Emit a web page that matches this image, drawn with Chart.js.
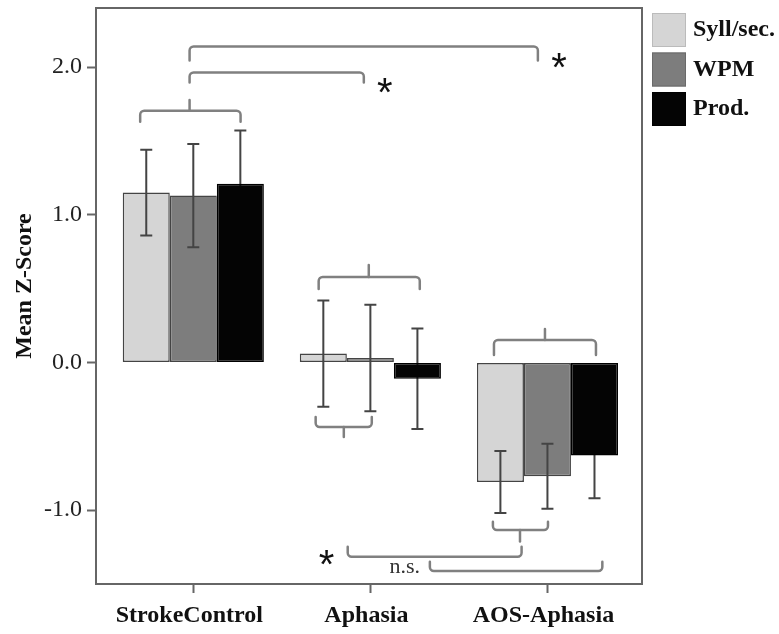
<!DOCTYPE html>
<html>
<head>
<meta charset="utf-8">
<script src="https://cdn.jsdelivr.net/npm/chart.js@4.4.1/dist/chart.umd.min.js"></script>
<style>
  html, body { margin: 0; padding: 0; background: #ffffff; }
  #wrap { width: 779px; height: 634px; }
</style>
</head>
<body>
<div id="wrap"><canvas id="c" width="779" height="634"></canvas></div>
<script>
// Group means (z-scores) and standard errors per speech-rate measure
const groups = ['StrokeControl', 'Aphasia', 'AOS-Aphasia'];
const seriesNames = ['Syll/sec.', 'WPM', 'Prod.'];
const syllPerSec = [1.15, 0.06, -0.81];
const syllErr = [0.29, 0.36, 0.21];
const wordsPerMin = [1.13, 0.03, -0.77];
const wpmErr = [0.35, 0.36, 0.22];
const productivity = [1.21, -0.11, -0.63];
const prodErr = [0.36, 0.34, 0.29];
const yTickValues = [-1, 0, 1, 2];

// Significance brackets, in axis units (x: group index, y: z-score)
const brackets = [
  { x1: -0.30, x2: 0.267, y: 1.705, leg: 1.630, nubX: -0.021, nubY: 1.777 },
  { x1: -0.021, x2: 1.946, y: 2.139, leg: 2.044 },
  { x1: -0.021, x2: 0.963, y: 1.963, leg: 1.896 },
  { x1: 0.708, x2: 1.279, y: 0.579, leg: 0.497, nubX: 0.991, nubY: 0.660 },
  { x1: 0.691, x2: 1.008, y: -0.437, leg: -0.369, nubX: 0.850, nubY: -0.504 },
  { x1: 1.698, x2: 2.274, y: 0.152, leg: 0.051, nubX: 1.986, nubY: 0.227 },
  { x1: 1.692, x2: 2.003, y: -1.134, leg: -1.078, nubX: 1.845, nubY: -1.213 },
  { x1: 0.872, x2: 1.854, y: -1.315, leg: -1.247 },
  { x1: 1.336, x2: 2.310, y: -1.412, leg: -1.349 }
];
const marks = [
  { text: '*', x: 2.065, y: 2.062, kind: 'star' },
  { text: '*', x: 1.081, y: 1.893, kind: 'star' },
  { text: '*', x: 0.753, y: -1.303, kind: 'star' },
  { text: 'n.s.', x: 1.194, y: -1.385, kind: 'note' }
];

const serif = '"Liberation Serif", "Times New Roman", serif';
const fills = ['#d5d5d5', '#7d7d7d', '#040404'];
const errors = [syllErr, wpmErr, prodErr];

const toPoints = vals => vals.map((v, i) => ({ x: i, y: v }));

function drawErrorBars(chart, which) {
  const ctx = chart.ctx, ys = chart.scales.y;
  ctx.save();
  ctx.strokeStyle = '#444';
  ctx.lineWidth = 2;
  chart.data.datasets.forEach((ds, di) => {
    if (!which(di)) return;
    const meta = chart.getDatasetMeta(di);
    meta.data.forEach((bar, i) => {
      const v = ds.data[i].y, e = errors[di][i];
      const top = ys.getPixelForValue(v + e), bot = ys.getPixelForValue(v - e);
      ctx.beginPath();
      ctx.moveTo(bar.x, top); ctx.lineTo(bar.x, bot);
      ctx.moveTo(bar.x - 6, top); ctx.lineTo(bar.x + 6, top);
      ctx.moveTo(bar.x - 6, bot); ctx.lineTo(bar.x + 6, bot);
      ctx.stroke();
    });
  });
  ctx.restore();
}

const decorations = {
  id: 'decorations',
  beforeDatasetsDraw(chart) {
    // whiskers of the black series sit behind its bars
    drawErrorBars(chart, di => di === 2);
  },
  afterDatasetsDraw(chart) {
    drawErrorBars(chart, di => di !== 2);
    const ctx = chart.ctx, xs = chart.scales.x, ys = chart.scales.y;
    const X = v => xs.getPixelForValue(v), Y = v => ys.getPixelForValue(v);
    ctx.save();
    ctx.strokeStyle = '#808080';
    ctx.lineWidth = 2.5;
    ctx.lineCap = 'round';
    brackets.forEach(b => {
      const x1 = X(b.x1), x2 = X(b.x2), y = Y(b.y), yl = Y(b.leg);
      ctx.beginPath();
      ctx.moveTo(x1, yl);
      ctx.arcTo(x1, y, x2, y, 4);
      ctx.arcTo(x2, y, x2, yl, 4);
      ctx.lineTo(x2, yl);
      ctx.stroke();
      if (b.nubX !== undefined) {
        ctx.beginPath();
        ctx.moveTo(X(b.nubX), y);
        ctx.lineTo(X(b.nubX), Y(b.nubY));
        ctx.stroke();
      }
    });
    marks.forEach(m => {
      ctx.fillStyle = '#111';
      ctx.textAlign = 'center';
      if (m.kind === 'star') {
        ctx.font = '40px "Liberation Sans", Arial, sans-serif';
        ctx.textBaseline = 'alphabetic';
        ctx.fillText(m.text, X(m.x), Y(m.y) + 23);
      } else {
        ctx.font = '22px ' + serif;
        ctx.fillStyle = '#333';
        ctx.textBaseline = 'middle';
        ctx.fillText(m.text, X(m.x), Y(m.y));
      }
    });
    ctx.restore();
  },
  afterDraw(chart) {
    const ctx = chart.ctx, a = chart.chartArea;
    ctx.save();
    // plot frame
    ctx.strokeStyle = '#666';
    ctx.lineWidth = 2;
    ctx.strokeRect(a.left, a.top, a.right - a.left, a.bottom - a.top);
    // y-axis title
    ctx.fillStyle = '#111';
    ctx.font = 'bold 24px ' + serif;
    ctx.textAlign = 'center';
    ctx.textBaseline = 'middle';
    ctx.translate(25, 286);
    ctx.rotate(-Math.PI / 2);
    ctx.fillText('Mean Z-Score', 0, 0);
    ctx.restore();
    // legend
    ctx.save();
    const boxX = a.right + 10;
    seriesNames.forEach((name, i) => {
      const top = 13 + i * 39.5;
      ctx.fillStyle = fills[i];
      ctx.fillRect(boxX, top, 34, 34);
      ctx.strokeStyle = i === 0 ? '#bbb' : (i === 1 ? '#6a6a6a' : '#000');
      ctx.lineWidth = 1;
      ctx.strokeRect(boxX + 0.5, top + 0.5, 33, 33);
      ctx.fillStyle = '#111';
      ctx.font = 'bold 24px ' + serif;
      ctx.textAlign = 'left';
      ctx.textBaseline = 'middle';
      ctx.fillText(name, boxX + 41, top + 17);
    });
    ctx.restore();
  }
};

const seriesValues = [syllPerSec, wordsPerMin, productivity];

new Chart(document.getElementById('c'), {
  type: 'bar',
  data: {
    datasets: seriesNames.map((name, i) => ({
      label: name,
      data: toPoints(seriesValues[i]),
      backgroundColor: fills[i],
      borderColor: i === 2 ? '#000' : '#444',
      borderWidth: 1.5,
      borderSkipped: false,
      categoryPercentage: 0.797,
      barPercentage: 1.0
    }))
  },
  options: {
    responsive: false,
    animation: false,
    devicePixelRatio: 1,
    layout: { padding: { top: 8, right: 137, bottom: 0, left: 0 } },
    plugins: { legend: { display: false }, tooltip: { enabled: false } },
    scales: {
      x: {
        type: 'linear',
        offset: false,
        min: -0.5495,
        max: 2.534,
        afterBuildTicks: s => { s.ticks = groups.map((g, i) => ({ value: i })); },
        afterFit: s => { s.height = 50; s.paddingLeft = 0; s.paddingRight = 0; },
        grid: { offset: false, drawOnChartArea: false, drawTicks: true, tickLength: 9, tickColor: '#666', tickWidth: 2 },
        border: { display: true, color: '#666', width: 2 },
        ticks: {
          callback: v => groups[v] !== undefined ? groups[v] : '',
          font: { family: serif, size: 24, weight: 'bold' },
          color: '#111',
          padding: 8,
          labelOffset: -4,
          maxRotation: 0,
          autoSkip: false
        }
      },
      y: {
        min: -1.5,
        max: 2.4,
        afterBuildTicks: s => { s.ticks = yTickValues.map(v => ({ value: v })); },
        afterFit: s => { s.width = 96; s.paddingTop = 0; s.paddingBottom = 0; },
        grid: { drawOnChartArea: false, drawTicks: true, tickLength: 9, tickColor: '#666', tickWidth: 2 },
        border: { display: true, color: '#666', width: 2 },
        ticks: {
          callback: v => Number(v).toFixed(1),
          font: { family: serif, size: 24 },
          color: '#222',
          padding: 5
        }
      }
    }
  },
  plugins: [decorations]
});
</script>
</body>
</html>
